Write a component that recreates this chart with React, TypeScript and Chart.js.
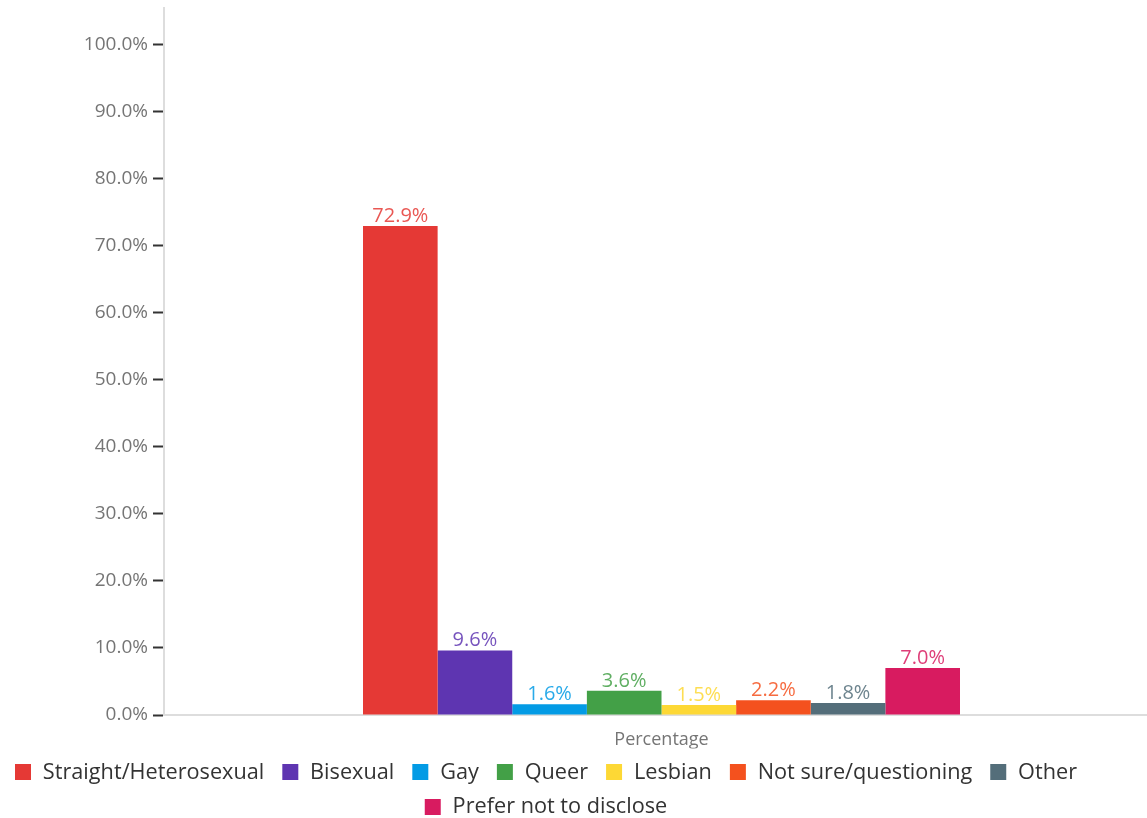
import React, { useEffect, useRef } from "react";
import { Chart, registerables } from "chart.js";

Chart.register(...registerables);

const categories = ["Percentage"];
const seriesNames = [
  "Straight/Heterosexual",
  "Bisexual",
  "Gay",
  "Queer",
  "Lesbian",
  "Not sure/questioning",
  "Other",
  "Prefer not to disclose",
];
const seriesValues = [72.9, 9.6, 1.6, 3.6, 1.5, 2.2, 1.8, 7.0];
const seriesColors = [
  "#E53935",
  "#5E35B1",
  "#039BE5",
  "#43A047",
  "#FDD835",
  "#F4511E",
  "#546E7A",
  "#D81B60",
];
const yTicks = [0, 10, 20, 30, 40, 50, 60, 70, 80, 90, 100];

const FONT = "'Open Sans', 'Noto Sans', sans-serif";
const CANVAS_W = 1159;
const CANVAS_H = 818;
const LEGEND_LEFT = -5;
const LEGEND_W = 1097;
const LEGEND_FONT = 21.7;
const MARKER_W = 22;
const MARKER_BOX = 16;

function makeMarker(color: string) {
  const c = document.createElement("canvas");
  c.width = MARKER_W;
  c.height = MARKER_BOX;
  const g = c.getContext("2d")!;
  g.fillStyle = color;
  g.fillRect(MARKER_W - MARKER_BOX - 1, 0, MARKER_BOX, MARKER_BOX);
  return c;
}

const valueLabels = {
  id: "valueLabels",
  afterDatasetsDraw(chart: any) {
    const ctx = chart.ctx;
    ctx.save();
    ctx.font = `20px ${FONT}`;
    ctx.textAlign = "center";
    ctx.textBaseline = "bottom";
    chart.data.datasets.forEach((ds: any, i: number) => {
      const meta = chart.getDatasetMeta(i);
      meta.data.forEach((el: any, j: number) => {
        const v = ds.data[j];
        ctx.fillStyle = ds.backgroundColor;
        ctx.globalAlpha = 0.85;
        ctx.fillText(v.toFixed(1) + "%", el.x, el.y);
      });
    });
    ctx.restore();
  },
};

const legendShift = {
  id: "legendShift",
  afterLayout(chart: any) {
    const lg = chart.legend;
    if (!lg) return;
    lg.left = LEGEND_LEFT;
    lg.right = LEGEND_LEFT + LEGEND_W;
    lg.width = LEGEND_W;
    if (lg.adjustHitBoxes) lg.adjustHitBoxes();
  },
};

export default function App() {
  const ref = useRef<HTMLCanvasElement>(null);
  useEffect(() => {
    document.body.style.margin = "0";
    const markers = seriesColors.map(makeMarker);
    const chart = new Chart(ref.current!, {
      type: "bar",
      data: {
        labels: categories,
        datasets: seriesNames.map((name, i) => ({
          label: name,
          data: [seriesValues[i]],
          backgroundColor: seriesColors[i],
          borderWidth: 0,
        })),
      },
      options: {
        animation: false,
        responsive: false,
        maintainAspectRatio: false,
        layout: { padding: { left: 0, right: 0, top: 8, bottom: -10 } },
        datasets: { bar: { categoryPercentage: 0.6, barPercentage: 1 } },
        scales: {
          x: {
            grid: { display: false },
            border: { color: "#dddddd", width: 2 },
            ticks: { color: "#757575", font: { family: FONT, size: 18 }, padding: 6 },
            afterFit: (axis: any) => {
              axis.height = axis.height - 8;
            },
          },
          y: {
            min: 0,
            max: 105.4,
            afterBuildTicks: (axis: any) => {
              axis.ticks = yTicks.map((v) => ({ value: v }));
            },
            afterFit: (axis: any) => {
              axis.width = 164;
              axis.paddingTop = 0;
              axis.paddingBottom = 0;
            },
            grid: {
              drawOnChartArea: false,
              tickLength: 11,
              tickColor: "#333333",
              tickWidth: 2,
            },
            border: { color: "#dddddd", width: 2 },
            ticks: {
              color: "#757575",
              font: { family: FONT, size: 19 },
              padding: 5,
              callback: (v: any) => Number(v).toFixed(1) + "%",
            },
          },
        },
        plugins: {
          legend: {
            position: "bottom",
            labels: {
              usePointStyle: true,
              pointStyleWidth: MARKER_W,
              boxHeight: MARKER_BOX,
              color: "#333333",
              font: { family: FONT, size: LEGEND_FONT },
              padding: 13,
              generateLabels: () =>
                seriesNames.map((name, i) => ({
                  text: name,
                  fillStyle: seriesColors[i],
                  strokeStyle: seriesColors[i],
                  lineWidth: 0,
                  pointStyle: markers[i],
                  hidden: false,
                  datasetIndex: i,
                  fontColor: "#333333",
                })),
            },
          },
          tooltip: { enabled: false },
        },
      },
      plugins: [valueLabels, legendShift],
    });
    return () => chart.destroy();
  }, []);
  return (
    <div style={{ position: "absolute", left: 0, top: 0, width: 1147, height: 818, overflow: "hidden" }}>
      <canvas ref={ref} width={CANVAS_W} height={CANVAS_H} style={{ display: "block" }} />
    </div>
  );
}
